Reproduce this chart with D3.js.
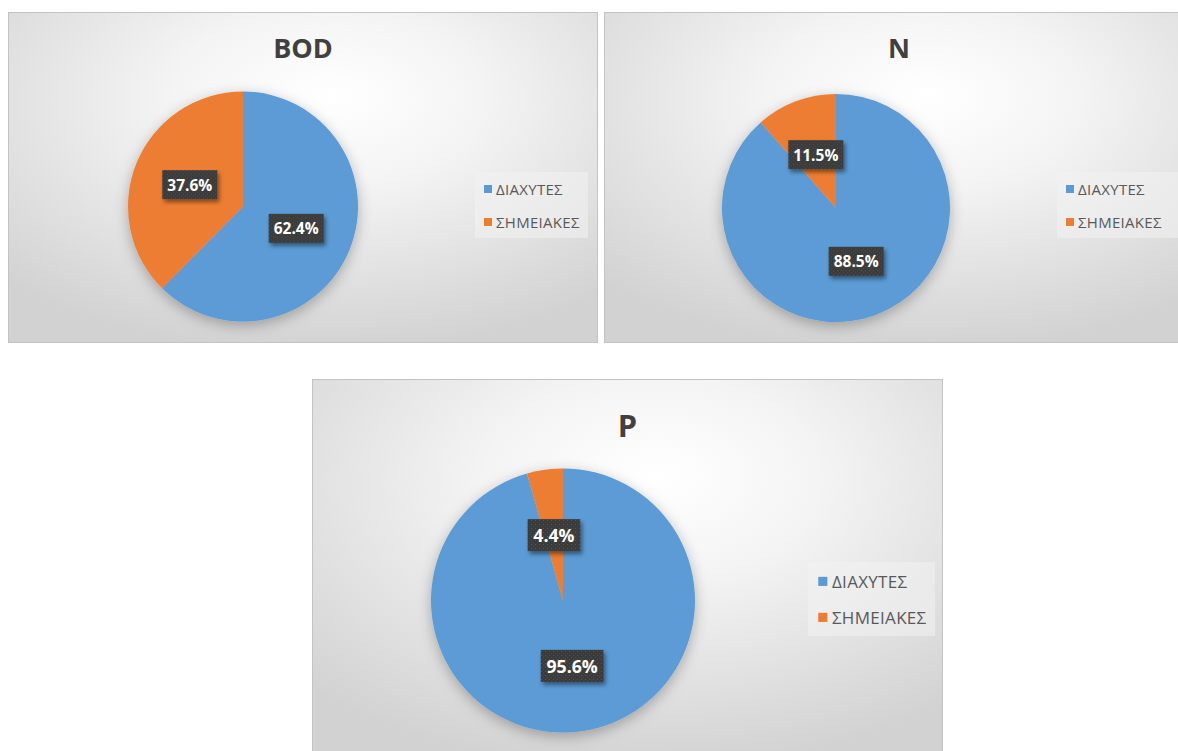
<!DOCTYPE html>
<html>
<head>
<meta charset="utf-8">
<script src="https://cdn.jsdelivr.net/npm/d3@7"></script>
<style>
  html, body { margin: 0; padding: 0; background: #ffffff; }
  svg { display: block; }
</style>
</head>
<body>
<svg id="chart" width="1178" height="751"></svg>
<script>
// Share of load by source type, per pollutant
const categories = ["ΔΙΑΧΥΤΕΣ", "ΣΗΜΕΙΑΚΕΣ"];
const pollutants = ["BOD", "N", "P"];
const diffuseShare = [62.4, 88.5, 95.6];
const pointShare = [37.6, 11.5, 4.4];
const sliceColors = ["#5B9BD5", "#ED7D31"];

// Panel frames and inner layout
const panels = [
  { x: 8,   y: 12,  w: 590, h: 331, cx: 243, cy: 206.5, r: 115, titleY: 58,  k: 1.0, lf: 15,
    legend: { x: 475, y: 172, w: 113, h: 66, gap: 33 } },
  { x: 604, y: 12,  w: 590, h: 331, cx: 836, cy: 208,   r: 114, titleY: 58,  k: 1.0, lf: 15,
    legend: { x: 1057, y: 172, w: 125, h: 66, gap: 33 } },
  { x: 312, y: 379, w: 631, h: 380, cx: 563, cy: 600.5, r: 132, titleY: 437, k: 1.14, lf: 17,
    legend: { x: 808, y: 562, w: 127, h: 74, gap: 36 } }
];

const svg = d3.select("#chart");
const defs = svg.append("defs");

// Soft light-to-grey backdrop of each chart area
const bg = defs.append("radialGradient").attr("id", "panelBg")
  .attr("cx", "0.52").attr("cy", "0.28").attr("r", "0.75")
  .attr("fx", "0.55").attr("fy", "0.25");
bg.append("stop").attr("offset", "0").attr("stop-color", "#ffffff");
bg.append("stop").attr("offset", "0.35").attr("stop-color", "#f4f4f4");
bg.append("stop").attr("offset", "1").attr("stop-color", "#d2d2d2");

// Shadow under the pies
const pieShadow = defs.append("filter").attr("id", "pieShadow")
  .attr("x", "-30%").attr("y", "-30%").attr("width", "160%").attr("height", "160%");
pieShadow.append("feDropShadow").attr("dx", 0).attr("dy", 4)
  .attr("stdDeviation", 7).attr("flood-color", "#000").attr("flood-opacity", 0.28);

// Shadow under the data-label boxes
const lblShadow = defs.append("filter").attr("id", "lblShadow")
  .attr("x", "-30%").attr("y", "-40%").attr("width", "170%").attr("height", "190%");
lblShadow.append("feDropShadow").attr("dx", 2).attr("dy", 3)
  .attr("stdDeviation", 2).attr("flood-color", "#000").attr("flood-opacity", 0.45);

// Fine dotted texture on label boxes
const dots = defs.append("pattern").attr("id", "dots")
  .attr("width", 4).attr("height", 4).attr("patternUnits", "userSpaceOnUse");
dots.append("rect").attr("width", 4).attr("height", 4).attr("fill", "#3a3a3a");
dots.append("rect").attr("x", 1).attr("y", 1).attr("width", 1).attr("height", 1).attr("fill", "#5c5c5c");
dots.append("rect").attr("x", 3).attr("y", 3).attr("width", 1).attr("height", 1).attr("fill", "#4c4c4c");

const pie = d3.pie().sort(null).value(d => d.value);
const pct = d3.format(".1f");

panels.forEach((p, i) => {
  const data = [
    { name: categories[0], value: diffuseShare[i] },
    { name: categories[1], value: pointShare[i] }
  ];

  // Clip so the frame never spills past the page
  const clipId = "clip" + i;
  defs.append("clipPath").attr("id", clipId)
    .append("rect").attr("x", p.x).attr("y", p.y).attr("width", p.w).attr("height", p.h);

  const g = svg.append("g").attr("clip-path", `url(#${clipId})`);

  g.append("rect")
    .attr("x", p.x + 0.5).attr("y", p.y + 0.5)
    .attr("width", p.w - 1).attr("height", p.h - 1)
    .attr("fill", "url(#panelBg)")
    .attr("stroke", "#c3c3c3").attr("stroke-width", 1);

  // Title
  g.append("text")
    .attr("x", p.x + p.w / 2).attr("y", p.titleY)
    .attr("text-anchor", "middle")
    .attr("font-family", "'Open Sans', sans-serif")
    .attr("font-weight", 700)
    .attr("font-size", 27 * p.k)
    .attr("fill", "#404040")
    .text(pollutants[i]);

  // Slices
  const arc = d3.arc().innerRadius(0).outerRadius(p.r);
  const pieG = g.append("g")
    .attr("transform", `translate(${p.cx},${p.cy})`);
  pieG.append("g").attr("filter", "url(#pieShadow)")
    .selectAll("path")
    .data(pie(data))
    .join("path")
    .attr("d", arc)
    .attr("fill", (d, j) => sliceColors[j]);

  // Data labels at about half radius
  const labelArc = d3.arc().innerRadius(p.r * 0.5).outerRadius(p.r * 0.5);
  pie(data).forEach(d => {
    const [lx, ly] = labelArc.centroid(d);
    const lg = pieG.append("g").attr("transform", `translate(${lx},${ly})`);
    const box = lg.append("rect").attr("fill", "url(#dots)").attr("filter", "url(#lblShadow)");
    const t = lg.append("text")
      .attr("text-anchor", "middle")
      .attr("dominant-baseline", "central")
      .attr("font-family", "'Open Sans', sans-serif")
      .attr("font-weight", 700)
      .attr("font-size", 15.5 * p.k)
      .attr("fill", "#ffffff")
      .text(pct(d.data.value) + "%");
    const bb = t.node().getBBox();
    const padX = 5 * p.k, padY = 3.5 * p.k;
    box.attr("x", bb.x - padX).attr("y", bb.y - padY)
      .attr("width", bb.width + 2 * padX).attr("height", bb.height + 2 * padY);
  });

  // Legend
  const L = p.legend;
  g.append("rect")
    .attr("x", L.x).attr("y", L.y).attr("width", L.w).attr("height", L.h)
    .attr("fill", "#f2f2f2").attr("opacity", 0.55);
  const firstRow = L.y + 17 * p.k;
  categories.forEach((c, j) => {
    const yy = firstRow + j * L.gap;
    const sq = 8 * p.k;
    g.append("rect")
      .attr("x", L.x + 9 * p.k).attr("y", yy - sq / 2)
      .attr("width", sq).attr("height", sq)
      .attr("fill", sliceColors[j]);
    g.append("text")
      .attr("x", L.x + 21 * p.k).attr("y", yy)
      .attr("dominant-baseline", "central")
      .attr("font-family", "'Open Sans', sans-serif")
      .attr("font-size", p.lf)
      .attr("letter-spacing", 0.3)
      .attr("fill", "#595959")
      .text(c);
  });
});
</script>
</body>
</html>
